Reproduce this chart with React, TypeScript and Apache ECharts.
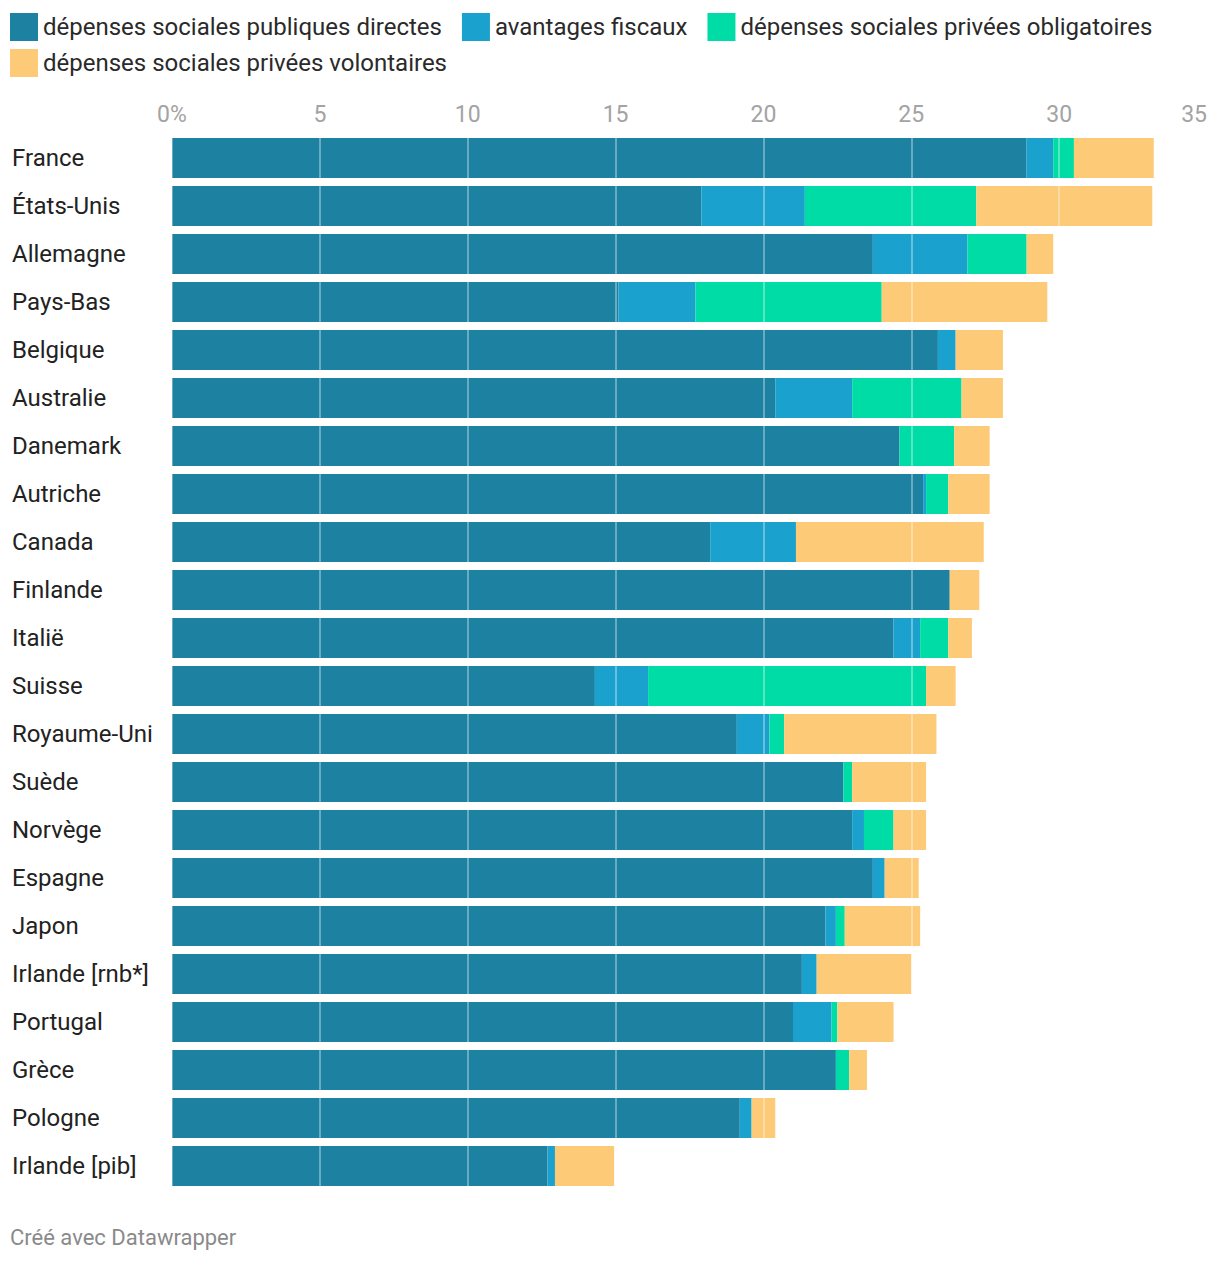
import React, { useEffect, useRef } from "react";
import * as echarts from "echarts";

const countries = [
  "France", "États-Unis", "Allemagne", "Pays-Bas", "Belgique", "Australie",
  "Danemark", "Autriche", "Canada", "Finlande", "Italië", "Suisse",
  "Royaume-Uni", "Suède", "Norvège", "Espagne", "Japon", "Irlande [rnb*]",
  "Portugal", "Grèce", "Pologne", "Irlande [pib]",
];

const seriesNames = [
  "dépenses sociales publiques directes",
  "avantages fiscaux",
  "dépenses sociales privées obligatoires",
  "dépenses sociales privées volontaires",
];

const publicDirect = [28.9, 17.9, 23.7, 15.1, 25.9, 20.4, 24.6, 25.4, 18.2, 26.3, 24.4, 14.3, 19.1, 22.7, 23.0, 23.7, 22.1, 21.3, 21.0, 22.45, 19.2, 12.7];
const taxBreaks = [0.9, 3.5, 3.2, 2.6, 0.6, 2.6, 0, 0.1, 2.9, 0, 0.9, 1.8, 1.1, 0, 0.4, 0.4, 0.35, 0.5, 1.3, 0, 0.4, 0.25];
const privateMandatory = [0.7, 5.8, 2.0, 6.3, 0, 3.7, 1.85, 0.75, 0, 0, 0.95, 9.4, 0.5, 0.3, 1.0, 0, 0.3, 0, 0.2, 0.45, 0, 0];
const privateVoluntary = [2.7, 5.95, 0.9, 5.6, 1.6, 1.4, 1.2, 1.4, 6.35, 1.0, 0.8, 1.0, 5.15, 2.5, 1.1, 1.15, 2.55, 3.2, 1.9, 0.6, 0.8, 2.0];

const xTicks = [0, 5, 10, 15, 20, 25, 30, 35];

const colors = ["#1d81a2", "#1aa1cd", "#00dca6", "#fdca78"];

export default function App() {
  const ref = useRef<HTMLDivElement>(null);

  useEffect(() => {
    if (!ref.current) return;
    const chart = echarts.init(ref.current, undefined, { renderer: "svg" });
    const values = [publicDirect, taxBreaks, privateMandatory, privateVoluntary];
    const font = "Roboto, 'Noto Sans', sans-serif";
    const legendCommon = {
      icon: "rect",
      itemWidth: 28,
      itemHeight: 28,
      itemGap: 20,
      padding: 0,
      orient: "horizontal" as const,
      selectedMode: false,
      textStyle: { fontSize: 24, color: "#2a2a2a", fontFamily: font },
    };
    chart.setOption({
      animation: false,
      color: colors,
      textStyle: { fontFamily: font },
      legend: [
        { ...legendCommon, left: 10, top: 13, data: seriesNames.slice(0, 3) },
        { ...legendCommon, left: 10, top: 49, data: seriesNames.slice(3) },
      ],
      grid: { left: 172, right: 13, top: 134, bottom: 74, containLabel: false },
      xAxis: {
        type: "value",
        position: "top",
        min: xTicks[0],
        max: xTicks[xTicks.length - 1],
        interval: 5,
        z: 5,
        axisLine: { show: false },
        axisTick: { show: false },
        axisLabel: {
          margin: 8,
          fontSize: 23,
          color: "#a3a3a3",
          fontFamily: font,
          alignMaxLabel: "right",
          formatter: (v: number) => (v === 0 ? "0%" : String(v)),
        },
        splitLine: {
          show: true,
          lineStyle: { color: "rgba(255,255,255,0.45)", width: 1.5 },
        },
      },
      yAxis: {
        type: "category",
        inverse: true,
        data: countries,
        axisLine: { show: false },
        axisTick: { show: false },
        axisLabel: {
          align: "left",
          margin: 160,
          fontSize: 24,
          color: "#222",
          fontFamily: font,
        },
      },
      series: seriesNames.map((name, i) => ({
        name,
        type: "bar",
        stack: "total",
        barWidth: 40,
        z: 2,
        itemStyle: { color: colors[i] },
        data: values[i],
      })),
      graphic: [
        {
          type: "text",
          left: 10,
          top: 1226,
          style: {
            text: "Créé avec Datawrapper",
            fontSize: 22,
            fill: "#8a8a8a",
            fontFamily: font,
          },
        },
      ],
    });
    return () => chart.dispose();
  }, []);

  return (
    <div
      ref={ref}
      style={{ position: "absolute", left: 0, top: 0, width: 1220, height: 1264, background: "#fff" }}
    />
  );
}
